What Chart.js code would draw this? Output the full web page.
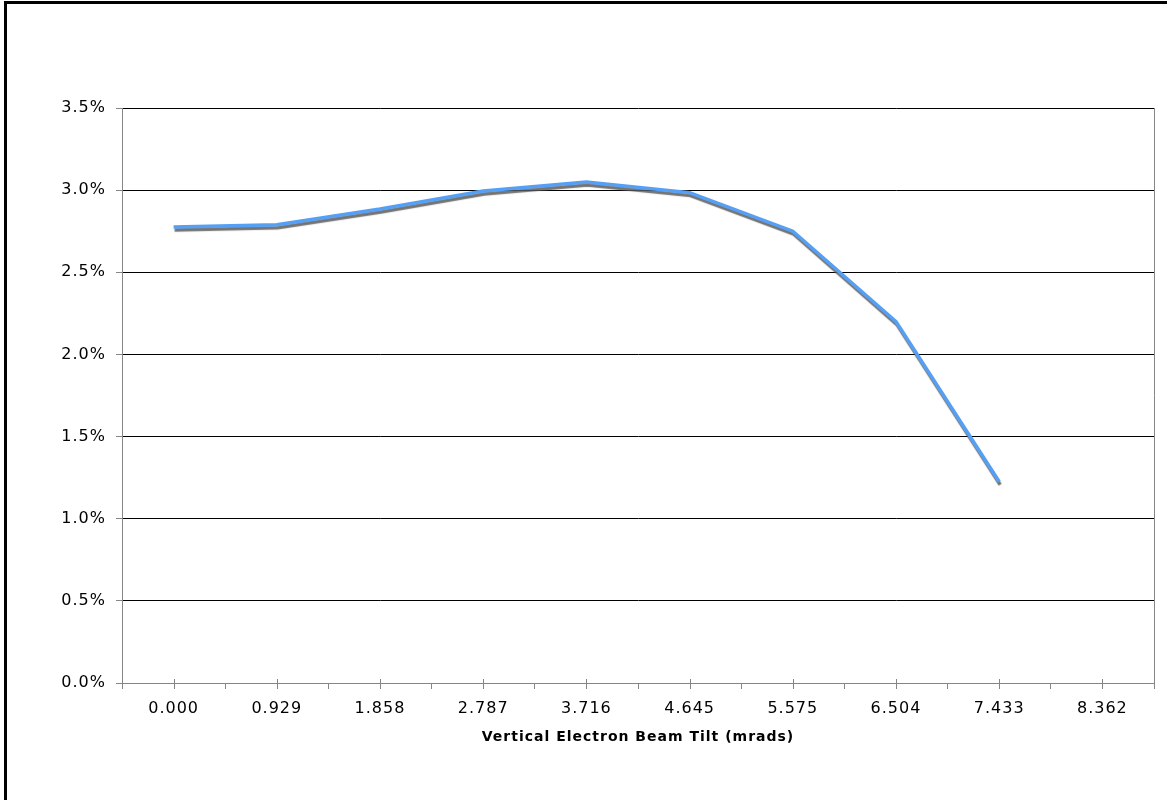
<!DOCTYPE html>
<html>
<head>
<meta charset="utf-8">
<script src="https://cdn.jsdelivr.net/npm/chart.js@4/dist/chart.umd.min.js"></script>
<style>
  html, body { margin: 0; padding: 0; background: #fff; overflow: hidden; }
  #wrap { position: relative; width: 1167px; height: 800px; }
  #frame {
    position: absolute; left: 4px; top: 1px; width: 1200px; height: 850px;
    border: 3px solid #000; pointer-events: none;
  }
</style>
</head>
<body>
<div id="wrap">
  <canvas id="tiltChart" width="1167" height="800"></canvas>
  <div id="frame"></div>
</div>
<script>
// Vertical electron beam tilt (mrads) vs. value (%)
const tiltLabels = ['0.000', '0.929', '1.858', '2.787', '3.716', '4.645', '5.575', '6.504', '7.433', '8.362'];
const tiltValues = [2.775, 2.79, 2.885, 2.995, 3.05, 2.985, 2.75, 2.2, 1.225, null];
const yTicks = { min: 0, max: 3.5, step: 0.5 };

const axisGrey = '#868686';

// the original's text is a bit wider than DejaVu, widen it a little
const wideText = {
    id: 'wideText',
    beforeInit(chart) { chart.ctx.letterSpacing = '1px'; },
    beforeDraw(chart) { chart.ctx.letterSpacing = '1px'; }
};

// drop shadow under the line, like the Excel original
const lineShadow = {
    id: 'lineShadow',
    beforeDatasetDraw(chart) {
        const ctx = chart.ctx;
        ctx.save();
        ctx.shadowColor = 'rgba(90, 90, 90, 0.85)';
        ctx.shadowOffsetX = 1;
        ctx.shadowOffsetY = 3;
        ctx.shadowBlur = 1;
    },
    afterDatasetDraw(chart) {
        chart.ctx.restore();
    }
};

// crossing tick marks at category centers + right edge of plot area
const axisExtras = {
    id: 'axisExtras',
    afterDraw(chart) {
        const { ctx, chartArea, scales } = chart;
        const x = scales.x;
        ctx.save();
        ctx.strokeStyle = axisGrey;
        ctx.lineWidth = 1;
        ctx.beginPath();
        tiltLabels.forEach((_, i) => {
            const px = Math.round(x.getPixelForValue(i)) + 0.5;
            ctx.moveTo(px, chartArea.bottom - 4);
            ctx.lineTo(px, chartArea.bottom + 6);
        });
        const rx = Math.round(chartArea.right) + 0.5;
        ctx.moveTo(rx, chartArea.top);
        ctx.lineTo(rx, chartArea.bottom);
        ctx.stroke();
        ctx.restore();
    }
};

new Chart(document.getElementById('tiltChart'), {
    type: 'line',
    data: {
        labels: tiltLabels,
        datasets: [{
            label: 'Tilt',
            data: tiltValues,
            borderColor: '#55a0f5',
            borderWidth: 3.5,
            pointRadius: 0,
            tension: 0,
            fill: false
        }]
    },
    options: {
        responsive: false,
        animation: false,
        events: [],
        layout: { padding: { top: 108, right: 13, bottom: 0, left: 0 } },
        plugins: {
            legend: { display: false },
            tooltip: { enabled: false }
        },
        scales: {
            x: {
                offset: true,
                afterFit(scale) { scale.height = 117; },
                grid: {
                    offset: true,
                    drawOnChartArea: false,
                    tickLength: 6,
                    tickColor: axisGrey
                },
                border: { color: axisGrey, width: 1 },
                ticks: {
                    color: '#000',
                    padding: 10,
                    maxRotation: 0,
                    autoSkip: false,
                    font: { family: 'DejaVu Sans', size: 16 }
                },
                title: {
                    display: true,
                    text: 'Vertical Electron Beam Tilt (mrads)',
                    color: '#000',
                    padding: { top: 0, bottom: 54 },
                    font: { family: 'DejaVu Sans', size: 14, weight: 'bold' }
                }
            },
            y: {
                min: yTicks.min,
                max: yTicks.max,
                afterFit(scale) { scale.width = 122; },
                grid: {
                    color: '#000',
                    lineWidth: 1,
                    tickLength: 6,
                    tickColor: axisGrey
                },
                border: { color: axisGrey, width: 1 },
                ticks: {
                    stepSize: yTicks.step,
                    color: '#000',
                    padding: 10,
                    font: { family: 'DejaVu Sans', size: 16 },
                    callback: v => v.toFixed(1) + '%'
                }
            }
        }
    },
    plugins: [wideText, lineShadow, axisExtras]
});
</script>
</body>
</html>
